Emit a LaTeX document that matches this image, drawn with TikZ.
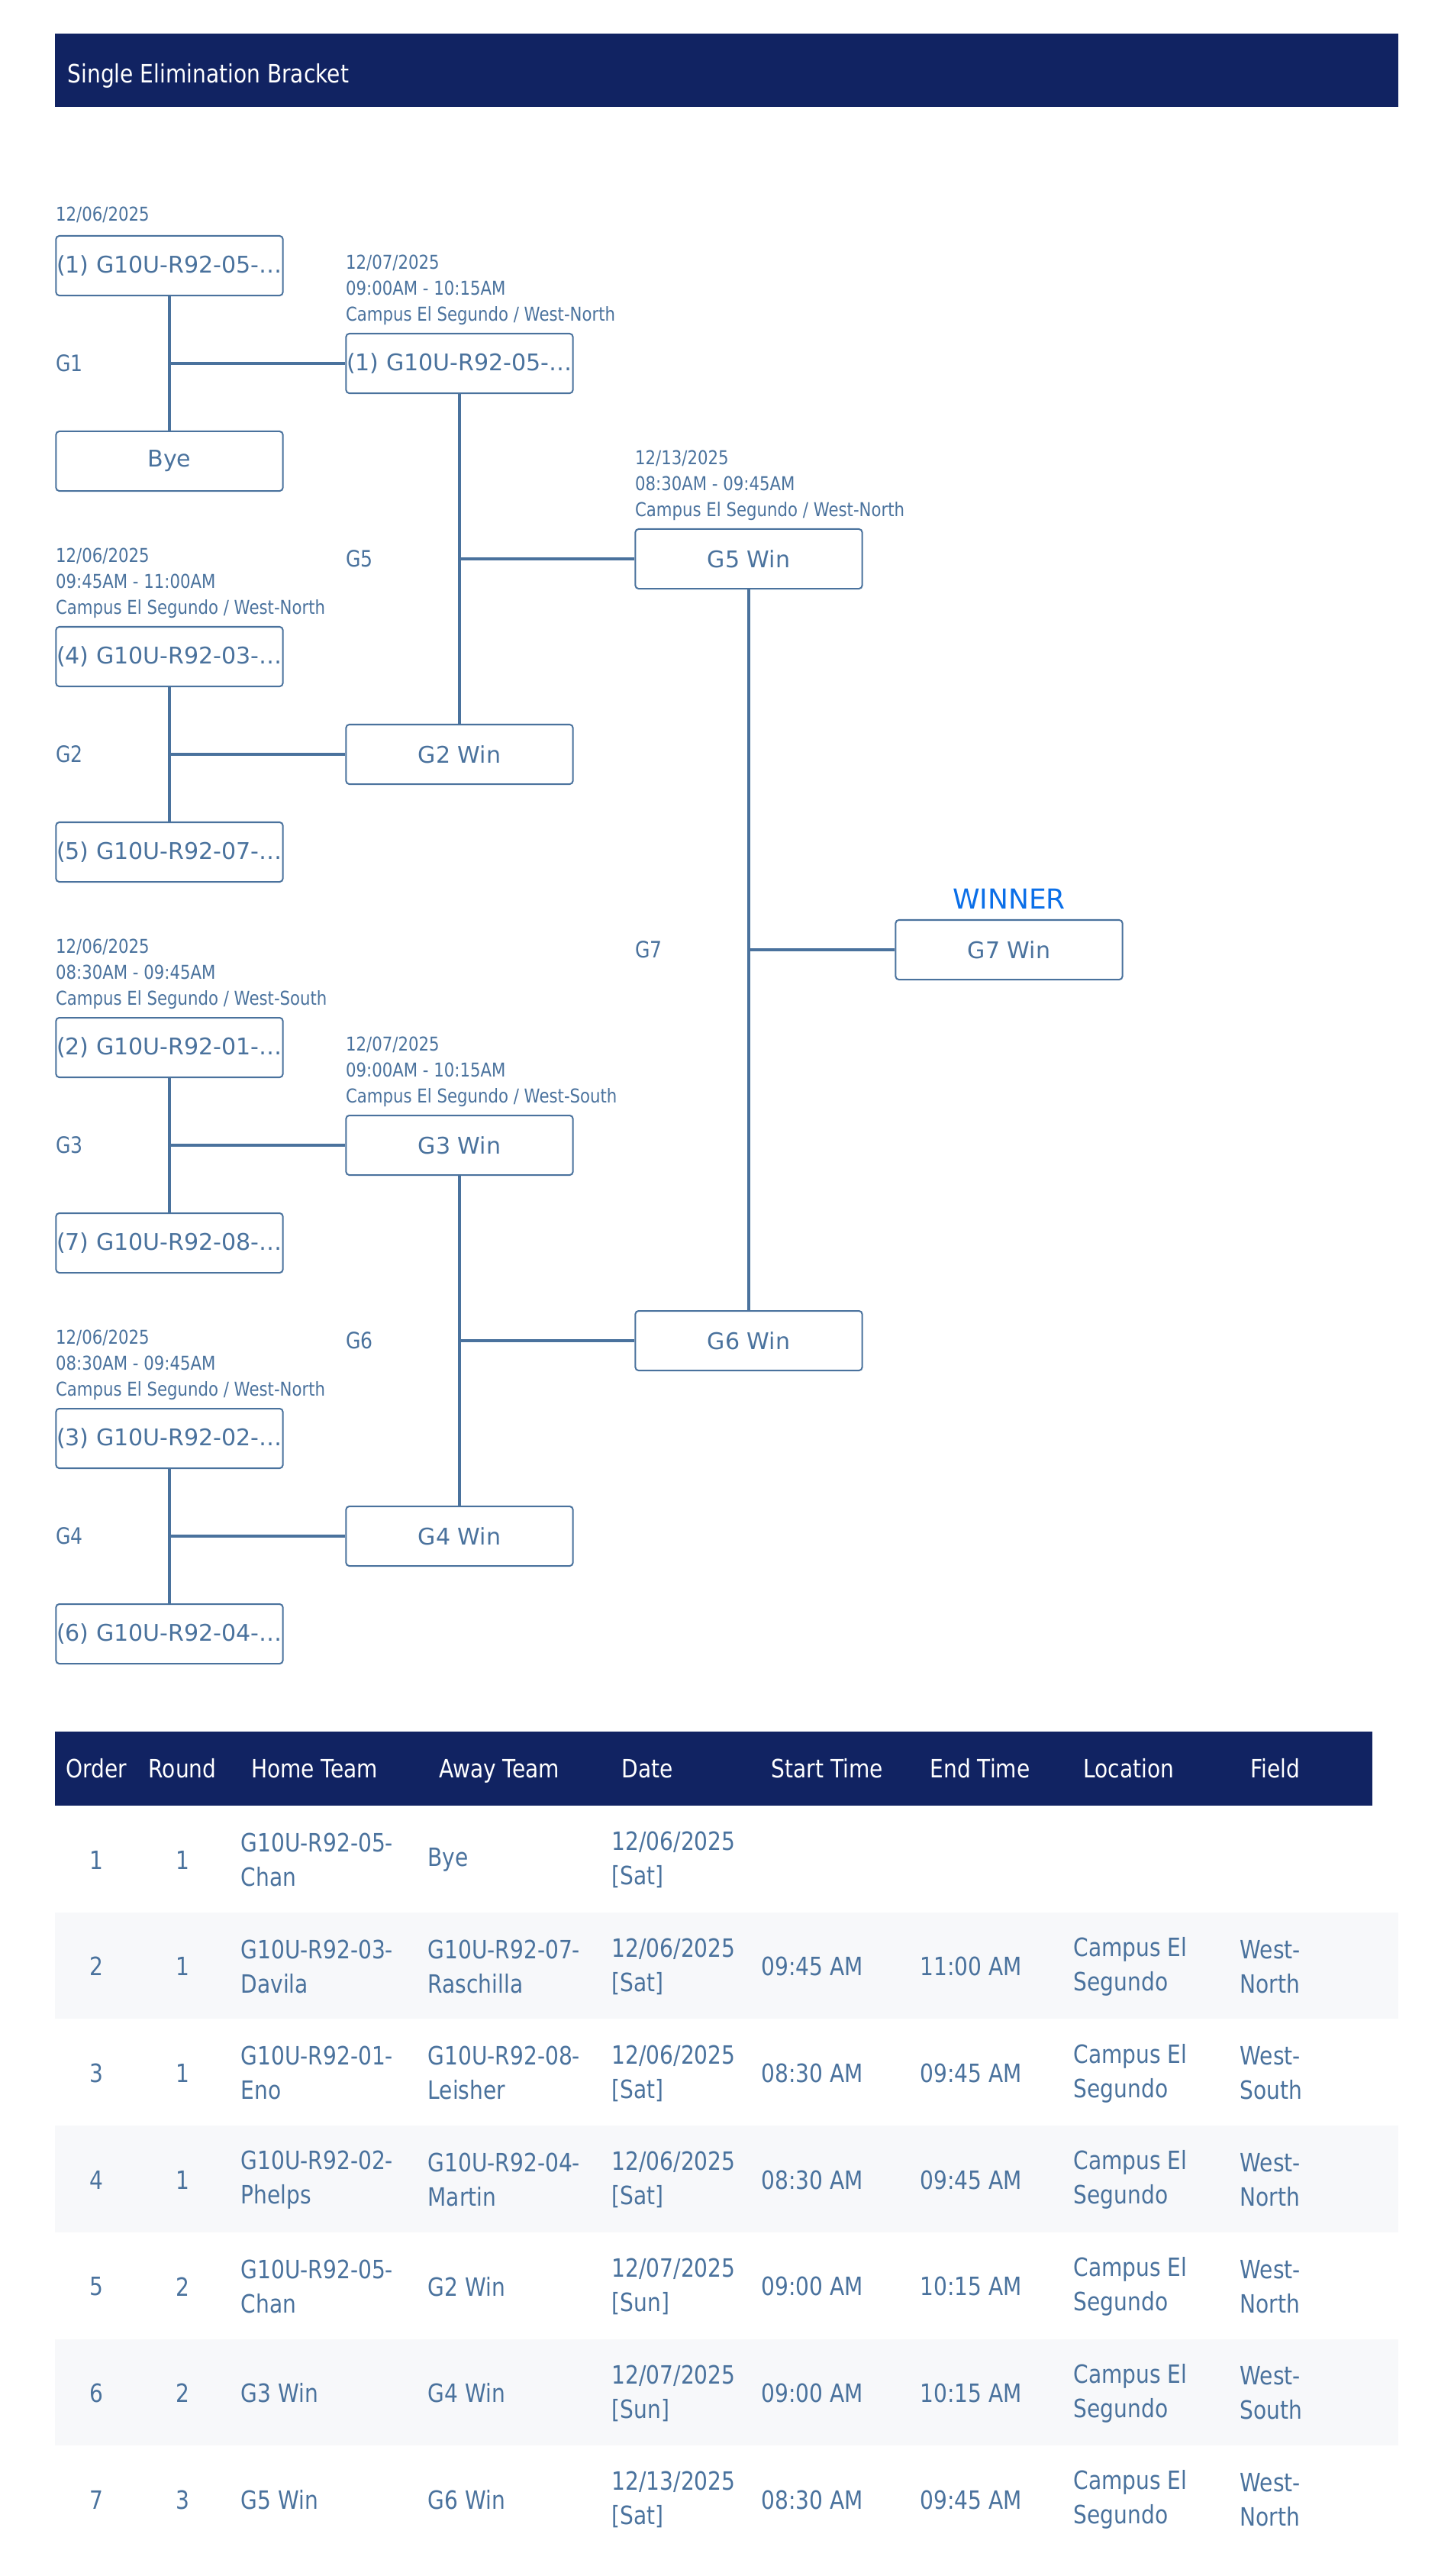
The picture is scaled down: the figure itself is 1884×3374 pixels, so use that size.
\documentclass[tikz,border=0pt]{standalone}
\usepackage{fontspec}
\setmainfont{DejaVu Sans}
\newfontfamily\narrowfont[FakeStretch=0.85]{DejaVu Sans}
\usetikzlibrary{positioning}

\definecolor{navy}{HTML}{112362}
\definecolor{steel}{HTML}{4A729D}
\definecolor{stripe}{HTML}{F7F8FA}
\definecolor{winblue}{HTML}{0B6FE8}

\tikzset{
  team/.style={draw=steel, line width=0.57pt, rounded corners=1.2pt, minimum width=2.97cm,
    minimum height=0.78cm, inner sep=0pt, text=steel, font=\fontsize{8.55}{10}\selectfont},
  info/.style={inner sep=0pt, align=left, text=steel, font=\narrowfont\fontsize{7.11}{9.67}\selectfont},
  gamelabel/.style={inner sep=0pt, anchor=west, text=steel, font=\narrowfont\fontsize{8.4}{10}\selectfont},
  link/.style={draw=steel, line width=1.14pt},
  head/.style={inner sep=0pt, anchor=base, text=white, font=\narrowfont\fontsize{9.39}{12}\selectfont},
  cell/.style={inner sep=0pt, anchor=west, align=left, text=steel, font=\narrowfont\fontsize{9.39}{12.8}\selectfont},
}

\begin{document}
\begin{tikzpicture}[x=0.01cm, y=-0.01cm]
\useasboundingbox (0,0) rectangle (1884,3374);

\fill [navy] (72,44) rectangle (1832,140);
\node [anchor=base west, inner sep=0pt, text=white, font=\narrowfont\fontsize{9.39}{12}\selectfont]
  (title) at (88,108) {Single Elimination Bracket};

% round 1
\node [team] (A1) at (222,348)  {(1) G10U-R92-05-…};
\node [team] (A2) at (222,604)  {Bye};
\node [team] (A3) at (222,860)  {(4) G10U-R92-03-…};
\node [team] (A4) at (222,1116) {(5) G10U-R92-07-…};
\node [team] (A5) at (222,1372) {(2) G10U-R92-01-…};
\node [team] (A6) at (222,1628) {(7) G10U-R92-08-…};
\node [team] (A7) at (222,1884) {(3) G10U-R92-02-…};
\node [team] (A8) at (222,2140) {(6) G10U-R92-04-…};
% round 2
\node [team] (B1) at (602,476)  {(1) G10U-R92-05-…};
\node [team] (B2) at (602,988)  {G2 Win};
\node [team] (B3) at (602,1500) {G3 Win};
\node [team] (B4) at (602,2012) {G4 Win};
% round 3 and final
\node [team] (C1) at (981,732)  {G5 Win};
\node [team] (C2) at (981,1756) {G6 Win};
\node [team] (D)  at (1322,1244) {G7 Win};
\node [above=0.13cm of D, inner sep=0pt, text=winblue, font=\fontsize{10.24}{12}\selectfont] (winner) {WINNER};

\node [info, above right=0.15cm and 0cm of A1.north west] (iA1) {12/06/2025};
\node [info, above right=0.1cm and 0cm of B1.north west] (iB1) {12/07/2025\\09:00AM - 10:15AM\\Campus El Segundo / West-North};
\node [info, above right=0.1cm and 0cm of C1.north west] (iC1) {12/13/2025\\08:30AM - 09:45AM\\Campus El Segundo / West-North};
\node [info, above right=0.1cm and 0cm of A3.north west] (iA3) {12/06/2025\\09:45AM - 11:00AM\\Campus El Segundo / West-North};
\node [info, above right=0.1cm and 0cm of A5.north west] (iA5) {12/06/2025\\08:30AM - 09:45AM\\Campus El Segundo / West-South};
\node [info, above right=0.1cm and 0cm of B3.north west] (iB3) {12/07/2025\\09:00AM - 10:15AM\\Campus El Segundo / West-South};
\node [info, above right=0.1cm and 0cm of A7.north west] (iA7) {12/06/2025\\08:30AM - 09:45AM\\Campus El Segundo / West-North};

\foreach \a/\b/\w/\g in {A1/A2/B1/G1, A3/A4/B2/G2, A5/A6/B3/G3, A7/A8/B4/G4, B1/B2/C1/G5, B3/B4/C2/G6, C1/C2/D/G7} {
  \draw [link] (\a.south) -- (\b.north);
  \draw [link] (\a.south |- \w.west) -- (\w.west);
  \node [gamelabel] (lbl\g) at (\a.west |- \w) {\g};
}

% schedule table
\fill [navy] (72,2268) rectangle (1798,2365);
\foreach \r in {2,4,6}
  \fill [stripe] (72,{2365+139.7*(\r-1)}) rectangle (1832,{2365+139.7*\r});
\foreach \x/\t in {126/Order, 239/Round, 412/Home Team, 654/Away Team, 848/Date,
    1084/Start Time, 1284/End Time, 1479/Location, 1671/Field}
  \node [head] (h\x) at (\x,2328) {\t};

\foreach \r/\ord/\rnd/\home/\away/\gdate/\st/\et/\loc/\fld in {
  1/1/1/{G10U-R92-05-\\Chan}/Bye/{12/06/2025\\{[Sat]}}/{}/{}/{}/{},
  2/2/1/{G10U-R92-03-\\Davila}/{G10U-R92-07-\\Raschilla}/{12/06/2025\\{[Sat]}}/09:45 AM/11:00 AM/{Campus El\\Segundo}/{West-\\North},
  3/3/1/{G10U-R92-01-\\Eno}/{G10U-R92-08-\\Leisher}/{12/06/2025\\{[Sat]}}/08:30 AM/09:45 AM/{Campus El\\Segundo}/{West-\\South},
  4/4/1/{G10U-R92-02-\\Phelps}/{G10U-R92-04-\\Martin}/{12/06/2025\\{[Sat]}}/08:30 AM/09:45 AM/{Campus El\\Segundo}/{West-\\North},
  5/5/2/{G10U-R92-05-\\Chan}/G2 Win/{12/07/2025\\{[Sun]}}/09:00 AM/10:15 AM/{Campus El\\Segundo}/{West-\\North},
  6/6/2/G3 Win/G4 Win/{12/07/2025\\{[Sun]}}/09:00 AM/10:15 AM/{Campus El\\Segundo}/{West-\\South},
  7/7/3/G5 Win/G6 Win/{12/13/2025\\{[Sat]}}/08:30 AM/09:45 AM/{Campus El\\Segundo}/{West-\\North}} {
  \pgfmathsetmacro\yc{2436+139.7*(\r-1)}
  \node [cell, anchor=center] (ord\r) at (126,\yc) {\ord};
  \node [cell, anchor=center] (rnd\r) at (239,\yc) {\rnd};
  \node [cell] (home\r) at (315,\yc)  {\home};
  \node [cell] (away\r) at (560,\yc)  {\away};
  \node [cell] (date\r) at (801,\yc)  {\gdate};
  \node [cell] (start\r) at (997,\yc) {\st};
  \node [cell] (end\r) at (1205,\yc)  {\et};
  \node [cell] (loc\r) at (1406,\yc)  {\loc};
  \node [cell] (field\r) at (1624,\yc) {\fld};
}
\end{tikzpicture}
\end{document}
